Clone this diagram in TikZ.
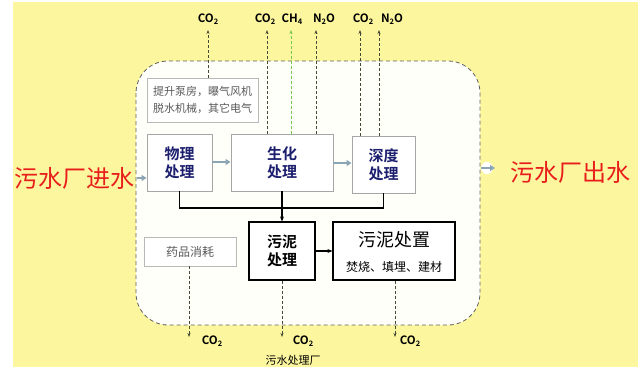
\documentclass[tikz,border=0pt]{standalone}
\usepackage{fontspec}
\setmainfont{Noto Sans CJK SC}[BoldFont={* Bold}]
\usetikzlibrary{arrows.meta}
\definecolor{bgyellow}{RGB}{252,246,158}
\definecolor{innerfill}{RGB}{255,255,250}
\definecolor{navy}{RGB}{28,30,110}
\definecolor{flowblue}{RGB}{140,165,180}
\definecolor{gasline}{RGB}{70,75,55}
\definecolor{chgreen}{RGB}{120,200,80}
\definecolor{redtext}{RGB}{232,30,28}
\newcommand{\sbs}[1]{\raisebox{-0.35ex}{\fontsize{7.5}{8}\selectfont #1}}
\tikzset{
  procbox/.style={draw=gray!70, line width=0.9pt, fill=white, inner sep=0pt,
    font=\fontsize{15}{18}\selectfont\bfseries, text=navy, align=center},
  sludgebox/.style={draw=black, line width=1.2pt, fill=white, inner sep=0pt, align=center},
  greybox/.style={draw=gray!55, line width=0.9pt, fill=white, inner sep=0pt,
    text=gray!70!black, align=center},
  gas/.style={draw=gasline, dashed, dash pattern=on 3pt off 2pt, line width=0.8pt,
    -{Stealth[length=4pt,width=3pt]}},
  gaslabel/.style={font=\fontsize{11.5}{13}\selectfont\bfseries, text=black, inner sep=0pt},
  flow/.style={draw=flowblue, line width=2pt, -{Triangle[length=5pt,width=6pt]}},
  bus/.style={draw=black, line width=1.1pt},
}
\begin{document}
\begin{tikzpicture}[x=1pt,y=-1pt]
\useasboundingbox (0,0) rectangle (638,368);
\fill[white] (0,0) rectangle (638,368);
\fill[bgyellow] (13,2) rectangle (638,367);
% plant boundary
\draw[draw=gray!75!black, dashed, dash pattern=on 4pt off 3pt, line width=0.8pt, fill=innerfill, rounded corners=32pt]
  (136,61) rectangle (480,325);

% boxes
\node[greybox, minimum width=111pt, minimum height=44pt, font=\fontsize{11}{17}\selectfont] (energy) at (202.5,100) {提升泵房，曝气风机\\脱水机械，其它电气};
\node[procbox, minimum width=65pt, minimum height=57pt] (wuli) at (179.5,162.5) {物理\\处理};
\node[procbox, minimum width=102pt, minimum height=57pt] (sh) at (282,162.5) {生化\\处理};
\node[procbox, minimum width=63pt, minimum height=57pt] (sd) at (383.5,164.5) {深度\\处理};
\node[sludgebox, minimum width=66pt, minimum height=58pt, font=\fontsize{15}{18}\selectfont\bfseries] (wnc) at (282,251) {污泥\\处理};
\node[sludgebox, minimum width=122pt, minimum height=58pt] (wnz) at (394,251) {};
\node[font=\fontsize{18}{20}\selectfont, inner sep=0pt] (wnzt) at (394,240) {污泥处置};
\node[font=\fontsize{12}{14}\selectfont, inner sep=0pt] (wnzs) at (394,267) {焚烧、填埋、建材};
\node[greybox, minimum width=92pt, minimum height=29pt, font=\fontsize{12}{14}\selectfont] (yp) at (190,251.5) {药品消耗};

% water in / out
\node[font=\fontsize{24}{26}\selectfont, text=redtext, inner sep=0pt] (in) at (75,178) {污水厂进水};
\node[font=\fontsize{24}{26}\selectfont, text=redtext, inner sep=0pt] (out) at (570,172) {污水厂出水};
\coordinate (inA) at (137,178);
\draw[flow, line width=1.5pt] (inA) -- (inA -| wuli.west);
\fill[white] (487,168) circle (6pt);
\coordinate (outA) at (481,168);
\coordinate (outB) at (495,168);
\draw[flow, line width=1.5pt] (outA) -- (outB);

% process flow
\draw[flow] (wuli.east |- 0,162) -- (sh.west |- 0,162);
\draw[flow] (sh.east |- 0,163) -- (sd.west |- 0,163);

% sludge bus
\coordinate (busL) at (179.5,208);
\coordinate (busM) at (282,208);
\coordinate (busR) at (383.5,208);
\draw[bus] (wuli.south) -- (busL) -- (busR) -- (sd.south);
\draw[bus, -{Stealth[length=5pt,width=4pt]}] (sh.south) -- (wnc.north);
\draw[bus, -{Stealth[length=5pt,width=4pt]}] (wnc.east) -- (wnz.west);

% gas emissions top
\coordinate (g1) at (208,30);
\coordinate (g2) at (267,30);
\coordinate (g3) at (291,30);
\coordinate (g4) at (316,30);
\coordinate (g5) at (360,30);
\coordinate (g6) at (379,30);
\draw[gas] (energy.north -| g1) -- (g1);
\draw[gas] (sh.north -| g2) -- (g2);
\draw[gas, draw=chgreen] (sh.north -| g3) -- (g3);
\draw[gas] (sh.north -| g4) -- (g4);
\draw[gas] (sd.north -| g5) -- (g5);
\draw[gas] (sd.north -| g6) -- (g6);
\node[gaslabel] (l1) at (208,19) {CO\sbs{2}};
\node[gaslabel] (l2) at (265,19) {CO\sbs{2}};
\node[gaslabel] (l3) at (292,19) {CH\sbs{4}};
\node[gaslabel] (l4) at (324,19) {N\sbs{2}O};
\node[gaslabel] (l5) at (363,19) {CO\sbs{2}};
\node[gaslabel] (l6) at (392,19) {N\sbs{2}O};

% gas emissions bottom
\coordinate (b1) at (189,337);
\coordinate (b2) at (282,337);
\coordinate (b3) at (395,337);
\draw[gas] (yp.south -| b1) -- (b1);
\draw[gas] (wnc.south -| b2) -- (b2);
\draw[gas] (wnz.south -| b3) -- (b3);
\node[gaslabel] (bl1) at (212,341) {CO\sbs{2}};
\node[gaslabel] (bl2) at (303,341) {CO\sbs{2}};
\node[gaslabel] (bl3) at (410,341) {CO\sbs{2}};

\node[font=\fontsize{11}{13}\selectfont, inner sep=0pt] (plant) at (293,360) {污水处理厂};
\end{tikzpicture}
\end{document}
